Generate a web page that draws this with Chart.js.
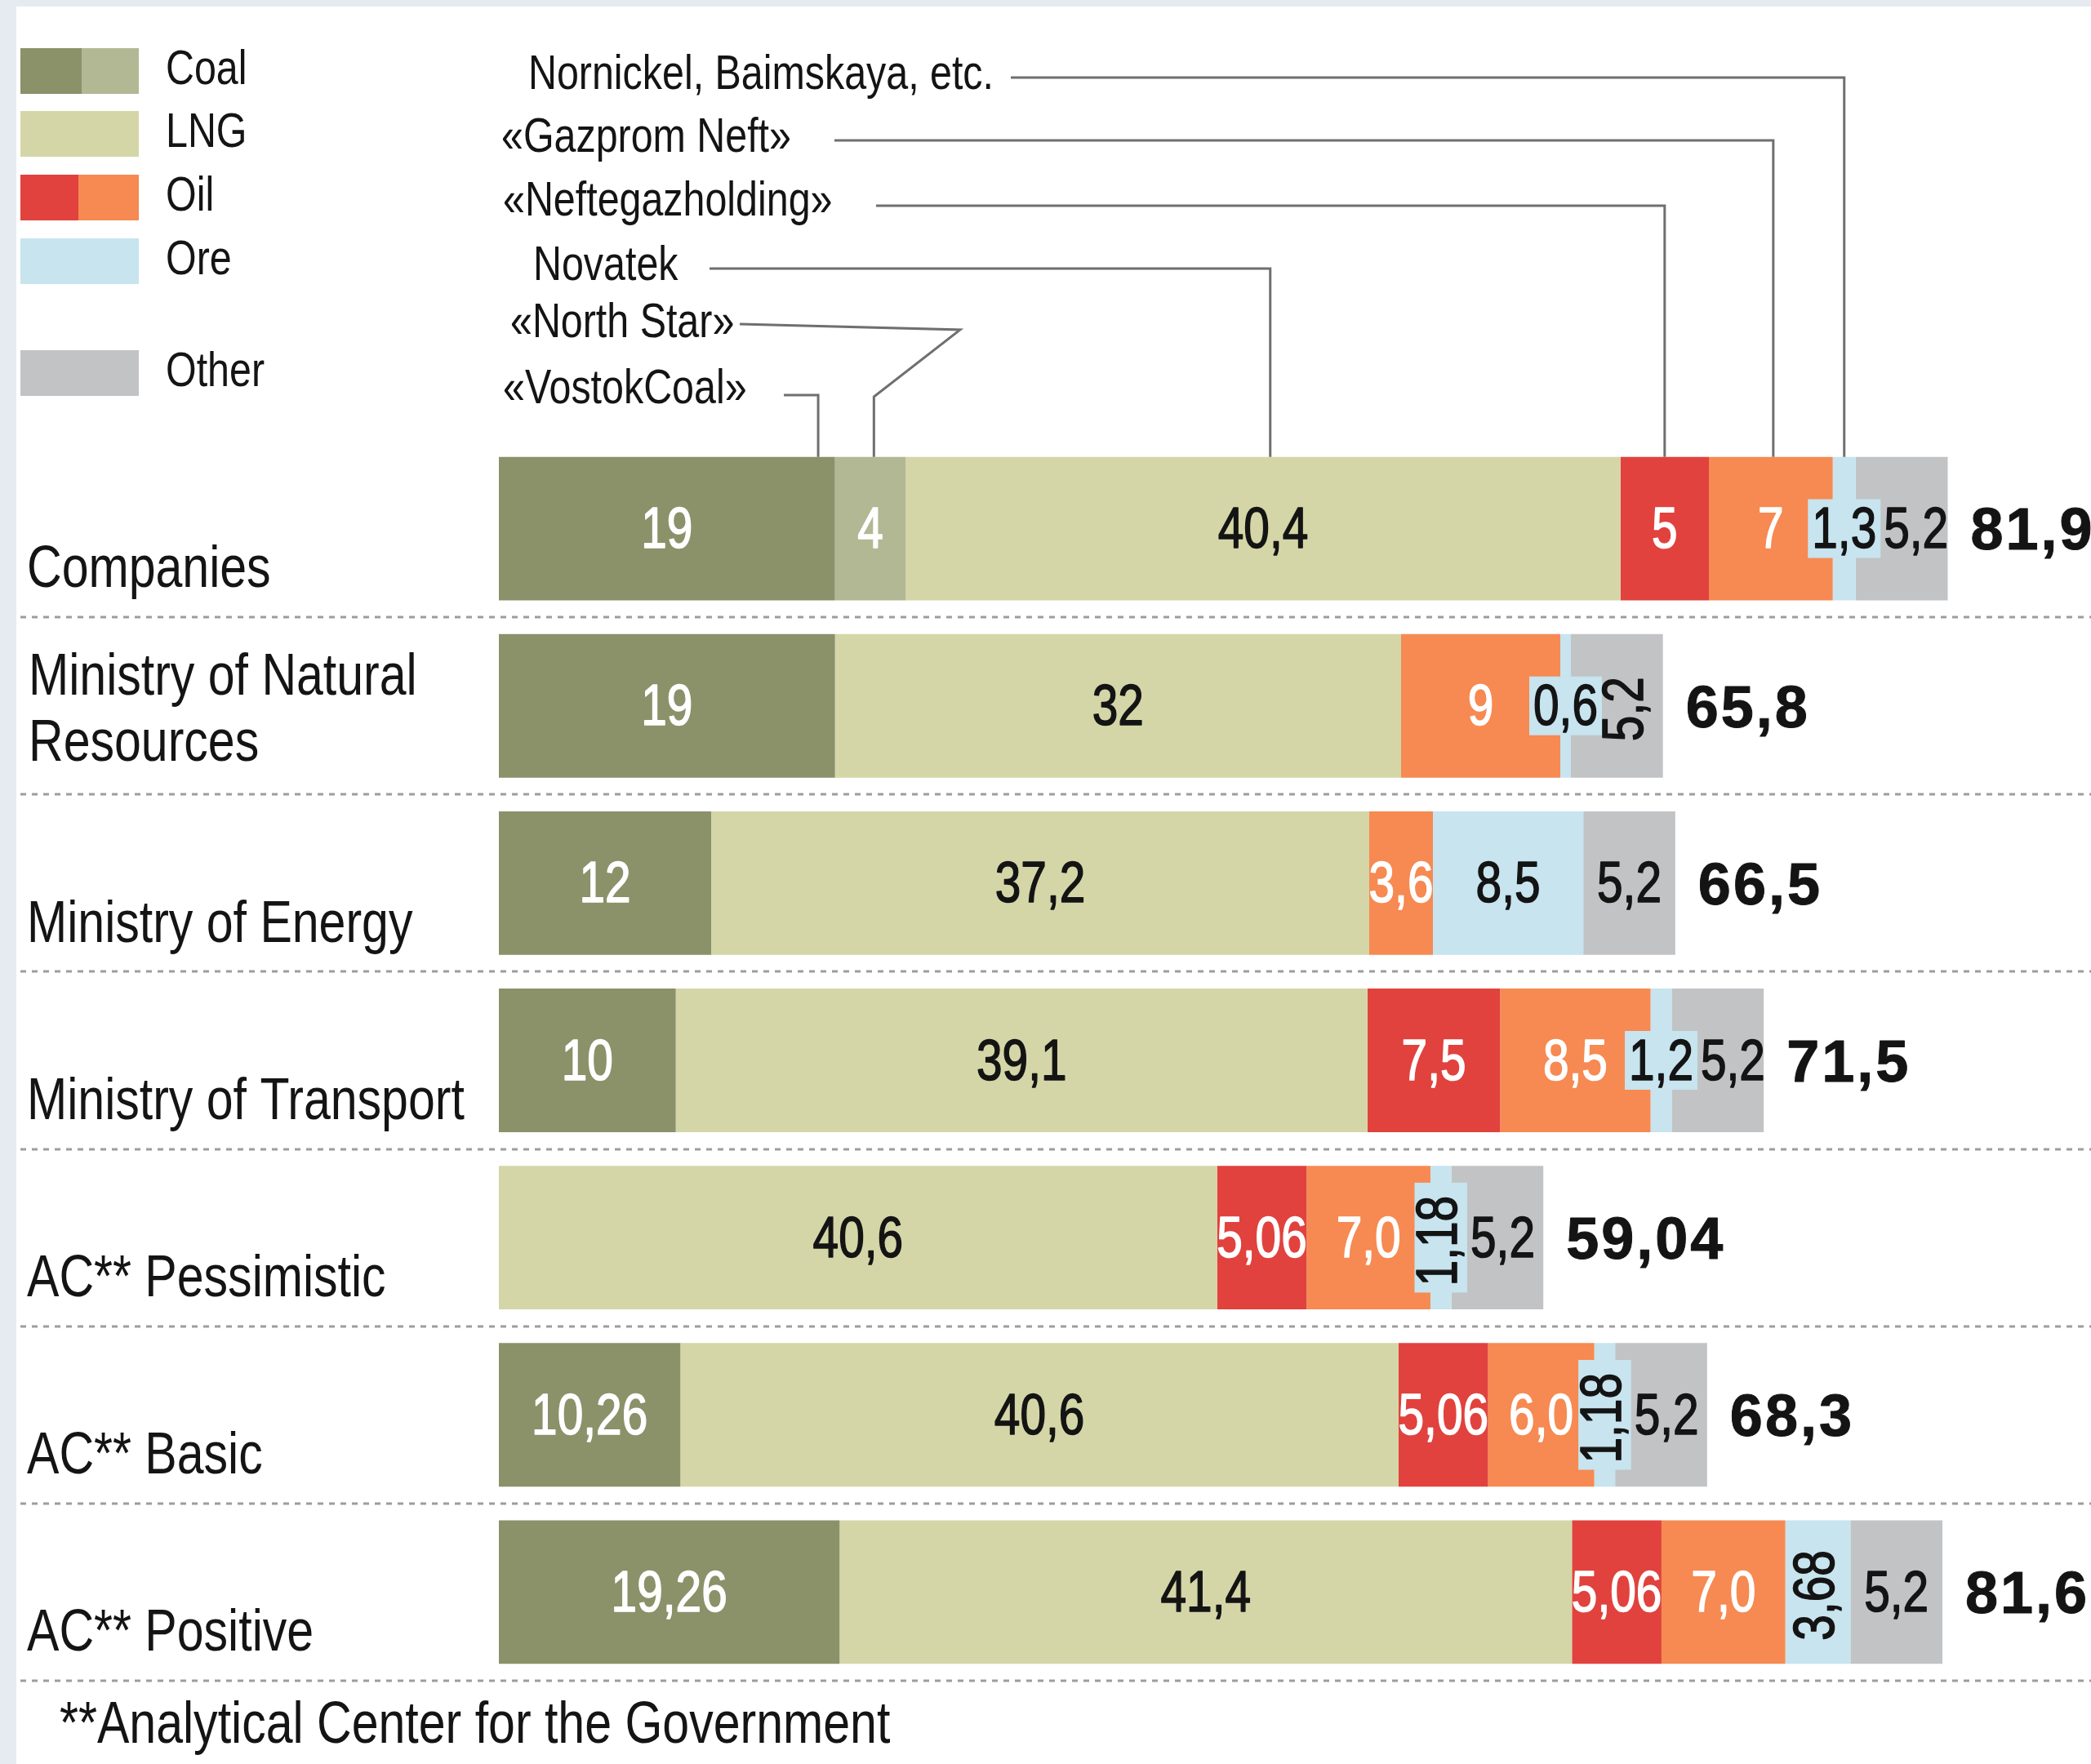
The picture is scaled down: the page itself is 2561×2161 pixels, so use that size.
<!DOCTYPE html>
<html>
<head>
<meta charset="utf-8">
<script src="https://cdn.jsdelivr.net/npm/chart.js@4.4.1/dist/chart.umd.min.js"></script>
<style>
  html, body { margin: 0; padding: 0; background: #ffffff; overflow: hidden; }
  #wrap { width: 2561px; height: 2161px; position: relative; }
  canvas { display: block; }
</style>
</head>
<body>
<div id="wrap"><canvas id="c" width="2561" height="2161"></canvas></div>
<script>
// ---------------- DATA (as printed on the chart) ----------------
const categories = ['Companies', 'Ministry of Natural|Resources', 'Ministry of Energy', 'Ministry of Transport', 'AC** Pessimistic', 'AC** Basic', 'AC** Positive'];
const coalMain   = ['19', '19', '12', '10', null, '10,26', '19,26'];
const coalExtra  = ['4', null, null, null, null, null, null];
const lng        = ['40,4', '32', '37,2', '39,1', '40,6', '40,6', '41,4'];
const oilRed     = ['5', null, null, '7,5', '5,06', '5,06', '5,06'];
const oilOrange  = ['7', '9', '3,6', '8,5', '7,0', '6,0', '7,0'];
const ore        = ['1,3', '0,6', '8,5', '1,2', '1,18', '1,18', '3,68'];
const other      = ['5,2', '5,2', '5,2', '5,2', '5,2', '5,2', '5,2'];
const totals     = ['81,9', '65,8', '66,5', '71,5', '59,04', '68,3', '81,6'];
const legendNames = ['Coal', 'LNG', 'Oil', 'Ore', 'Other'];
const companyNotes = ['Nornickel, Baimskaya, etc.', '«Gazprom Neft»', '«Neftegazholding»', 'Novatek', '«North Star»', '«VostokCoal»'];
const footnote = '**Analytical Center for the Government';

// ---------------- helpers ----------------
const num = s => (s === null ? null : parseFloat(String(s).replace(',', '.')));
const FONT = '"Liberation Sans", Arial, Helvetica, sans-serif';
const C = {
  coal: '#8b9169', coal2: '#b3b894', lng: '#d4d6a7', red: '#e1423d',
  orange: '#f68a52', ore: '#c7e4ef', other: '#c2c3c5', ink: '#141414'
};

const series = [
  { name: 'Coal',  vals: coalMain,  color: C.coal,   light: true },
  { name: 'Coal',  vals: coalExtra, color: C.coal2,  light: true },
  { name: 'LNG',   vals: lng,       color: C.lng,    light: false },
  { name: 'Oil',   vals: oilRed,    color: C.red,    light: true },
  { name: 'Oil',   vals: oilOrange, color: C.orange, light: true },
  { name: 'Ore',   vals: ore,       color: C.ore,    light: false },
  { name: 'Other', vals: other,     color: C.other,  light: false }
];
const ORE = 5, OTHER = 6;
// labels drawn vertically: [row, dataset]
const rotated = [[1, OTHER], [4, ORE], [5, ORE], [6, ORE]];
const isRot = (r, d) => rotated.some(p => p[0] === r && p[1] === d);

function setFont(ctx, o) {
  ctx.font = (o.bold ? 'bold ' : '') + o.size + 'px ' + FONT;
  ctx.letterSpacing = (o.ls || 0) + 'px';
}
function measure(ctx, s, o) {
  ctx.save(); setFont(ctx, o);
  const w = ctx.measureText(s).width * (o.sx || 1);
  ctx.restore(); return w;
}
function txt(ctx, s, x, y, o) {
  ctx.save();
  setFont(ctx, o);
  ctx.fillStyle = o.color || C.ink;
  ctx.textBaseline = 'middle';
  ctx.textAlign = o.align || 'left';
  ctx.translate(x, y);
  if (o.rot) ctx.rotate(-Math.PI / 2);
  ctx.scale(o.sx || 1, 1);
  ctx.fillText(s, 0, 0);
  if (o.stroke) {
    ctx.strokeStyle = o.color || C.ink;
    ctx.lineWidth = o.stroke;
    ctx.lineJoin = 'round';
    ctx.strokeText(s, 0, 0);
  }
  ctx.restore();
}

const bgPlugin = {
  id: 'bg',
  beforeDraw(chart) {
    const ctx = chart.ctx;
    ctx.save();
    ctx.fillStyle = '#e6eaf1';
    ctx.fillRect(0, 0, chart.width, chart.height);
    ctx.fillStyle = '#ffffff';
    ctx.fillRect(20, 8, chart.width - 20, chart.height - 8);
    ctx.restore();
  }
};

const SEG = { size: 71, sx: 0.8, stroke: 1.6 };
const CAT = { size: 72, sx: 0.82 };
const SMALL = { size: 59, sx: 0.82 };

const decoPlugin = {
  id: 'deco',
  afterDraw(chart) {
    const ctx = chart.ctx, xs = chart.scales.x, ys = chart.scales.y;
    const step = ys.getPixelForValue(1) - ys.getPixelForValue(0);

    // dashed separators
    ctx.save();
    ctx.strokeStyle = '#9d9d9d'; ctx.lineWidth = 3; ctx.setLineDash([7, 7]);
    for (let i = 0; i < categories.length; i++) {
      const y = Math.round(ys.getPixelForValue(i) + step / 2);
      ctx.beginPath(); ctx.moveTo(25, y); ctx.lineTo(chart.width, y); ctx.stroke();
    }
    ctx.restore();

    // category labels
    categories.forEach((lab, i) => {
      const cy = ys.getPixelForValue(i);
      const lines = lab.split('|');
      if (lines.length === 1) txt(ctx, lines[0], 33, cy + 52, CAT);
      else { txt(ctx, lines[0], 35, cy - 34, CAT); txt(ctx, lines[1], 35, cy + 47, CAT); }
    });

    // segment labels
    for (let i = 0; i < categories.length; i++) {
      let prevRight = -Infinity;
      const items = [];
      series.forEach((s, d) => {
        const v = s.vals[i];
        if (v === null) return;
        const el = chart.getDatasetMeta(d).data[i];
        const left = Math.min(el.x, el.base), right = Math.max(el.x, el.base);
        const w = right - left;
        let cx = (left + right) / 2;
        const cy = el.y + 4;
        const rot = isRot(i, d);
        const tw = measure(ctx, v, SEG);
        const ext = rot ? SEG.size * 0.74 : tw;
        let box = null;
        if (d === ORE && ext > w - 4) {
          const bw = rot ? ext + 12 : tw + 10;
          const bh = rot ? tw + 24 : 72;
          box = { x: cx - bw / 2, y: cy - 4 - bh / 2, w: bw, h: bh };
        }
        if (!box && cx - ext / 2 < prevRight + 4) cx = prevRight + 4 + ext / 2;
        prevRight = box ? box.x + box.w : cx + ext / 2;
        items.push({ v, cx, cy, rot, box, color: s.light ? '#ffffff' : C.ink });
      });
      items.forEach(it => {
        if (it.box) { ctx.fillStyle = C.ore; ctx.fillRect(it.box.x, it.box.y, it.box.w, it.box.h); }
      });
      items.forEach(it => {
        txt(ctx, it.v, it.cx, it.cy, Object.assign({ align: 'center', color: it.color, rot: it.rot }, SEG));
      });
      // total
      const tx = xs.getPixelForValue(num(totals[i])) + 28;
      txt(ctx, totals[i], tx, ys.getPixelForValue(i) + 6, { size: 72, bold: true, ls: 3, color: C.ink, stroke: 1 });
    }

    // legend
    const sw = [
      { y: 59,  cols: [C.coal, C.coal2], split: 100 },
      { y: 136, cols: [C.lng] },
      { y: 214, cols: [C.red, C.orange], split: 96 },
      { y: 292, cols: [C.ore] },
      { y: 429, cols: [C.other] }
    ];
    sw.forEach((s, k) => {
      if (s.cols.length === 2) {
        ctx.fillStyle = s.cols[0]; ctx.fillRect(25, s.y, s.split - 25, 56);
        ctx.fillStyle = s.cols[1]; ctx.fillRect(s.split, s.y, 170 - s.split, 56);
      } else { ctx.fillStyle = s.cols[0]; ctx.fillRect(25, s.y, 145, 56); }
      txt(ctx, legendNames[k], 203, s.y + 28, SMALL);
    });

    // company annotations with leader lines (anchored to the Companies bar)
    const meta0 = d => chart.getDatasetMeta(d).data[0];
    const barTop = ys.getPixelForValue(0) - meta0(0).height / 2;
    const anchorX = (d, f) => { const el = meta0(d); return el.base + (el.x - el.base) * f; };
    const notes = [
      { d: ORE, f: 0.5,  tx: 647, ty: 93,  ly: 95,  lx: 1238 },
      { d: 4,   f: 0.52, tx: 614, ty: 170, ly: 172, lx: 1022 },
      { d: 3,   f: 0.5,  tx: 616, ty: 248, ly: 252, lx: 1073 },
      { d: 2,   f: 0.51, tx: 653, ty: 327, ly: 329, lx: 869 },
      { d: 1,   f: 0.55, tx: 625, ty: 397, ly: 397, lx: 906, bend: [1176, 404, 486] },
      { d: 0,   f: 0.95, tx: 616, ty: 478, ly: 484, lx: 960 }
    ];
    ctx.save();
    ctx.strokeStyle = '#6f6f6f'; ctx.lineWidth = 3;
    notes.forEach((n, k) => {
      txt(ctx, companyNotes[k], n.tx, n.ty, SMALL);
      const ax = anchorX(n.d, n.f);
      ctx.beginPath();
      ctx.moveTo(n.lx, n.ly);
      if (n.bend) {
        ctx.lineTo(n.bend[0], n.bend[1]);
        ctx.lineTo(ax, n.bend[2]);
      } else {
        ctx.lineTo(ax, n.ly);
      }
      ctx.lineTo(ax, barTop);
      ctx.stroke();
    });
    ctx.restore();

    // footnote
    txt(ctx, footnote, 73, 2115, CAT);
  }
};

const chart = new Chart(document.getElementById('c'), {
  type: 'bar',
  data: {
    labels: categories.map(c => c.replace('|', ' ')),
    datasets: series.map(s => ({
      label: s.name,
      data: s.vals.map(num),
      backgroundColor: s.color,
      borderWidth: 0,
      barPercentage: 0.81,
      categoryPercentage: 1
    }))
  },
  options: {
    indexAxis: 'y',
    responsive: false,
    animation: false,
    layout: { padding: { left: 611, right: 0, top: 539, bottom: 102 } },
    scales: {
      x: { stacked: true, min: 0, max: 90, display: false },
      y: { stacked: true, display: false }
    },
    plugins: { legend: { display: false }, tooltip: { enabled: false } }
  },
  plugins: [bgPlugin, decoPlugin]
});
</script>
</body>
</html>
